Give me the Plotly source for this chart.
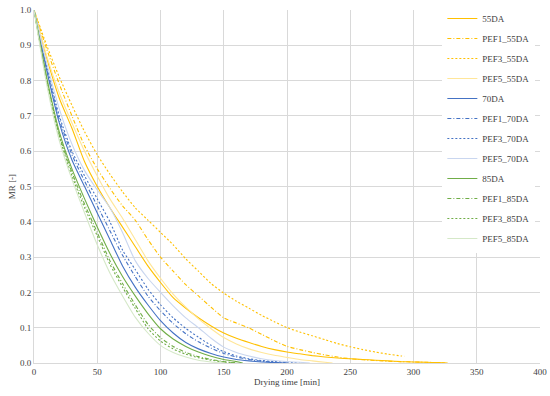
import plotly.graph_objects as go

# ---- data ----
t_55DA = [0,10,20,30,40,50,60,70,80,90,100,110,120,130,140,150,160,170,180,190,200,210,220,230,240,250,260,270,280,290,300,310,320,327]
mr_55DA = [1.0,0.865,0.75,0.665,0.57,0.5,0.44,0.385,0.33,0.275,0.228,0.185,0.155,0.128,0.105,0.085,0.07,0.058,0.047,0.038,0.031,0.026,0.021,0.017,0.014,0.012,0.01,0.008,0.006,0.004,0.003,0.002,0.001,0.0]

t_PEF1_55DA = [0,10,20,30,40,50,60,70,80,90,100,110,120,130,140,150,160,170,180,190,200,210,220,230,240,250,260,270,280,290,300,310,320,325]
mr_PEF1_55DA = [1.0,0.89,0.79,0.7,0.615,0.55,0.495,0.445,0.405,0.35,0.30,0.26,0.222,0.19,0.158,0.128,0.113,0.099,0.081,0.063,0.047,0.038,0.03,0.023,0.017,0.012,0.009,0.007,0.005,0.004,0.003,0.002,0.001,0.0]

t_PEF3_55DA = [0,10,20,30,40,50,60,70,80,90,100,110,120,130,140,150,160,170,180,190,200,210,220,230,240,250,260,270,280,290,293]
mr_PEF3_55DA = [1.0,0.9,0.81,0.73,0.655,0.59,0.535,0.485,0.44,0.405,0.37,0.335,0.295,0.26,0.225,0.198,0.175,0.155,0.135,0.117,0.10,0.088,0.077,0.066,0.055,0.046,0.038,0.031,0.025,0.02,0.019]

t_PEF5_55DA = [0,10,20,30,40,50,60,70,80,90,100,110,120,130,140,150,160,170,180,190,200,210,220,230,236]
mr_PEF5_55DA = [1.0,0.87,0.765,0.68,0.6,0.53,0.465,0.41,0.35,0.29,0.24,0.195,0.158,0.125,0.097,0.072,0.054,0.04,0.03,0.022,0.016,0.01,0.006,0.002,0.0]

t_70DA = [0,10,20,30,40,50,60,70,80,90,100,110,120,130,140,150,160,170,180,190,200]
mr_70DA = [1.0,0.83,0.68,0.575,0.5,0.425,0.35,0.275,0.215,0.165,0.12,0.085,0.058,0.04,0.027,0.017,0.01,0.006,0.003,0.001,0.0]

t_PEF1_70DA = [0,10,20,30,40,50,60,70,80,90,100,110,120,130,140,150,160,170,180,190,200]
mr_PEF1_70DA = [1.0,0.835,0.69,0.59,0.515,0.445,0.375,0.305,0.245,0.19,0.148,0.112,0.083,0.06,0.042,0.027,0.017,0.01,0.005,0.002,0.0]

t_PEF3_70DA = [0,10,20,30,40,50,60,70,80,90,100,110,120,130,140,150,160,170,180,190,200,210]
mr_PEF3_70DA = [1.0,0.84,0.70,0.60,0.53,0.465,0.40,0.32,0.265,0.21,0.165,0.128,0.098,0.073,0.05,0.032,0.02,0.012,0.007,0.004,0.002,0.0]

t_PEF5_70DA = [0,10,20,30,40,50,60,70,80,90,100,110,120,130,140,150,160,170,180,190,200,210,218]
mr_PEF5_70DA = [1.0,0.85,0.72,0.62,0.545,0.49,0.44,0.37,0.29,0.24,0.2,0.162,0.128,0.1,0.07,0.045,0.03,0.02,0.012,0.007,0.004,0.002,0.0]

t_85DA = [0,10,20,30,40,50,60,70,80,90,100,110,120,130,140,150,160,165]
mr_85DA = [1.0,0.81,0.655,0.55,0.465,0.385,0.31,0.245,0.19,0.14,0.097,0.068,0.047,0.031,0.019,0.01,0.004,0.0]

t_PEF1_85DA = [0,10,20,30,40,50,60,70,80,90,100,110,120,130,140,150,160]
mr_PEF1_85DA = [1.0,0.805,0.645,0.54,0.45,0.37,0.29,0.225,0.165,0.11,0.072,0.047,0.03,0.018,0.01,0.004,0.0]

t_PEF3_85DA = [0,10,20,30,40,50,60,70,80,90,100,110,120,130,140,150,160]
mr_PEF3_85DA = [1.0,0.80,0.64,0.53,0.44,0.36,0.28,0.215,0.155,0.098,0.062,0.04,0.025,0.015,0.008,0.003,0.0]

t_PEF5_85DA = [0,10,20,30,40,50,60,70,80,90,100,110,120,130,140,150]
mr_PEF5_85DA = [1.0,0.79,0.63,0.52,0.425,0.335,0.255,0.19,0.13,0.085,0.05,0.03,0.017,0.008,0.003,0.0]

x_ticks = [0, 50, 100, 150, 200, 250, 300, 350, 400]
y_ticks = [0.0, 0.1, 0.2, 0.3, 0.4, 0.5, 0.6, 0.7, 0.8, 0.9, 1.0]

DOT = "2px,2px"
DASHDOT = "4px,2px,1px,2px"
series = [
    ("55DA", t_55DA, mr_55DA, "#FFC000", "solid"),
    ("PEF1_55DA", t_PEF1_55DA, mr_PEF1_55DA, "#FFC000", DASHDOT),
    ("PEF3_55DA", t_PEF3_55DA, mr_PEF3_55DA, "#FFC000", DOT),
    ("PEF5_55DA", t_PEF5_55DA, mr_PEF5_55DA, "#FFE699", "solid"),
    ("70DA", t_70DA, mr_70DA, "#4472C4", "solid"),
    ("PEF1_70DA", t_PEF1_70DA, mr_PEF1_70DA, "#4472C4", DASHDOT),
    ("PEF3_70DA", t_PEF3_70DA, mr_PEF3_70DA, "#4472C4", DOT),
    ("PEF5_70DA", t_PEF5_70DA, mr_PEF5_70DA, "#C9D6EF", "solid"),
    ("85DA", t_85DA, mr_85DA, "#70AD47", "solid"),
    ("PEF1_85DA", t_PEF1_85DA, mr_PEF1_85DA, "#70AD47", DASHDOT),
    ("PEF3_85DA", t_PEF3_85DA, mr_PEF3_85DA, "#70AD47", DOT),
    ("PEF5_85DA", t_PEF5_85DA, mr_PEF5_85DA, "#D5E8C8", "solid"),
]

FONT = "Liberation Serif, DejaVu Serif, serif"

fig = go.Figure()
for i, (name, t, mr, color, dash) in enumerate(series):
    fig.add_trace(go.Scatter(
        x=t, y=mr, name=name, mode="lines",
        line=dict(color=color, dash=dash, width=1.1, shape="spline", smoothing=0.6),
        legendgroup=f"g{i}",
    ))

# paper area spans y 4..363; the plot itself spans y 10..363 (domain top < 1)
fig.update_layout(
    width=550, height=396,
    margin=dict(l=34, r=10, t=4, b=33),
    paper_bgcolor="white", plot_bgcolor="white",
    font=dict(family=FONT, size=9, color="#404040"),
    showlegend=True,
    legend=dict(
        x=0.807, y=1.0, xanchor="left", yanchor="top",
        bgcolor="white", borderwidth=0,
        font=dict(family=FONT, size=9, color="#404040"),
        tracegroupgap=1, itemwidth=30,
    ),
    xaxis=dict(
        range=[0, 400], tickvals=x_ticks, ticktext=[str(v) for v in x_ticks],
        showgrid=True, gridcolor="#D9D9D9", gridwidth=1,
        showline=True, linecolor="#D9D9D9", zeroline=False, automargin=False,
        ticks="", title=dict(text="Drying time [min]", font=dict(size=9, family=FONT), standoff=2),
        tickfont=dict(size=9, family=FONT, color="#404040"),
    ),
    yaxis=dict(
        range=[0, 1.0], tickvals=y_ticks, ticktext=[f"{v:.1f}" for v in y_ticks],
        domain=[0, 353 / 359],
        showgrid=True, gridcolor="#D9D9D9", gridwidth=1,
        showline=True, linecolor="#D9D9D9", zeroline=False, automargin=False,
        ticks="", title=dict(text="MR [-]", font=dict(size=9, family=FONT), standoff=2),
        tickfont=dict(size=9, family=FONT, color="#404040"),
    ),
)

# remove the page's default 8px body margin so the figure sits at the window's corner
fig.write_html("out.html", config={"displayModeBar": False},
               post_script="document.body.style.margin='0px';")
